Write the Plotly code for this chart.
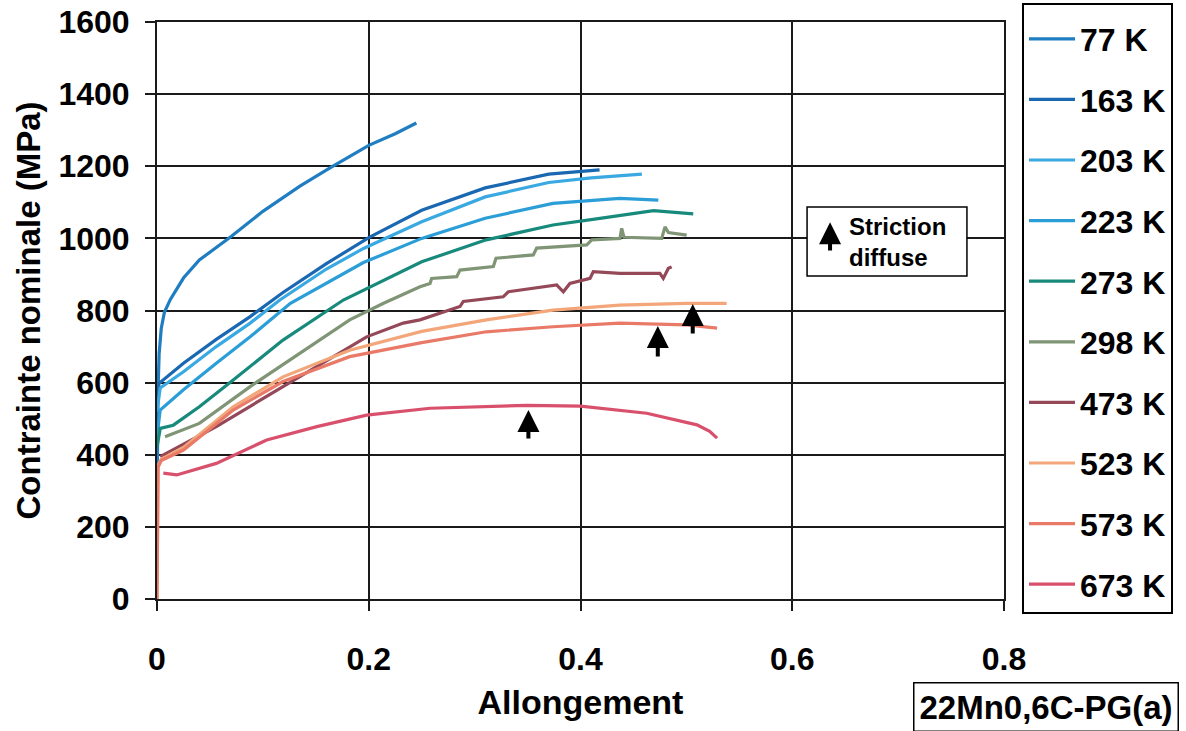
import plotly.graph_objects as go

# ---------------- data ----------------
labels = ["77 K", "163 K", "203 K", "223 K", "273 K", "298 K", "473 K", "523 K", "573 K", "673 K"]
colors = ["#1f7dc2", "#1a68b2", "#3aa9e2", "#2b9ed8", "#178a7c", "#7f9575",
          "#944858", "#f2a679", "#e97a68", "#d9506c"]

x_77 = [0, 0.0005, 0.001, 0.002, 0.004, 0.007, 0.0125, 0.025, 0.04, 0.07, 0.10, 0.135, 0.163, 0.20, 0.225, 0.245]
y_77 = [250, 450, 580, 680, 750, 795, 830, 890, 940, 1005, 1075, 1145, 1195, 1258, 1290, 1320]

x_163 = [0, 0.002, 0.025, 0.056, 0.088, 0.119, 0.16, 0.2, 0.25, 0.31, 0.37, 0.418]
y_163 = [560, 598, 654, 720, 783, 850, 930, 1002, 1078, 1140, 1178, 1190]

x_203 = [0, 0.003, 0.025, 0.056, 0.088, 0.116, 0.16, 0.195, 0.25, 0.31, 0.37, 0.41, 0.458]
y_203 = [520, 585, 630, 700, 765, 829, 915, 972, 1046, 1115, 1155, 1168, 1178]

x_223 = [0, 0.003, 0.025, 0.056, 0.088, 0.126, 0.195, 0.25, 0.31, 0.374, 0.437, 0.4735]
y_223 = [450, 524, 580, 654, 727, 820, 933, 1000, 1056, 1097, 1111, 1106]

x_273 = [0, 0.003, 0.0154, 0.04, 0.072, 0.119, 0.176, 0.25, 0.311, 0.374, 0.42, 0.469, 0.5065]
y_273 = [420, 473, 482, 533, 607, 718, 829, 935, 996, 1037, 1056, 1077, 1068]

x_298 = [0.0076, 0.04, 0.088, 0.135, 0.182, 0.214, 0.2484, 0.2579, 0.2594, 0.2831, 0.2862, 0.3177,
         0.3202, 0.3554, 0.3586, 0.4059, 0.4106, 0.4373, 0.4389, 0.4411, 0.4767, 0.4798, 0.483, 0.5003]
y_298 = [450, 487, 589, 681, 774, 820, 866, 875, 889, 894, 912, 922,
         945, 954, 973, 982, 996, 1000, 1028, 1003, 1000, 1032, 1016, 1009]

x_473 = [0.003, 0.056, 0.119, 0.1665, 0.198, 0.2326, 0.2484, 0.2862, 0.2893, 0.327, 0.3318, 0.3775,
         0.3838, 0.39, 0.409, 0.4121, 0.4373, 0.475, 0.4782, 0.483, 0.4861]
y_473 = [395, 478, 589, 672, 727, 765, 774, 811, 825, 838, 852, 871,
         852, 875, 889, 908, 903, 903, 889, 917, 921]

x_523 = [0, 0.001, 0.004, 0.025, 0.072, 0.119, 0.182, 0.25, 0.311, 0.374, 0.437, 0.5, 0.538]
y_523 = [0, 370, 388, 420, 533, 616, 690, 742, 774, 801, 815, 820, 820]

x_573 = [0, 0.001, 0.004, 0.025, 0.072, 0.119, 0.182, 0.25, 0.311, 0.374, 0.437, 0.5, 0.529]
y_573 = [0, 365, 384, 413, 524, 603, 672, 711, 741, 755, 765, 760, 751]

x_673 = [0.006, 0.0186, 0.056, 0.1036, 0.151, 0.198, 0.258, 0.3, 0.349, 0.4, 0.4625, 0.51, 0.522, 0.529]
y_673 = [349, 344, 376, 441, 478, 510, 529, 533, 537, 535, 515, 483, 465, 446]

series_x = [x_77, x_163, x_203, x_223, x_273, x_298, x_473, x_523, x_573, x_673]
series_y = [y_77, y_163, y_203, y_223, y_273, y_298, y_473, y_523, y_573, y_673]

# "Striction diffuse" arrows: x position, tail stress, tip stress
arrow_x = [0.3508, 0.473, 0.506]
arrow_tail = [441, 668, 732]
arrow_tip = [524, 757, 818]

x_ticks = [0, 0.2, 0.4, 0.6, 0.8]
x_ticktext = ["0", "0.2", "0.4", "0.6", "0.8"]
y_ticks = [0, 200, 400, 600, 800, 1000, 1200, 1400, 1600]

FONT = "Arial, Liberation Sans, sans-serif"
W, H = 1186, 731
ML, MR, MT, MB = 157, 182, 22, 132
PW, PH = W - ML - MR, H - MT - MB

fig = go.Figure()
for i, (lab, col, xs, ys) in enumerate(zip(labels, colors, series_x, series_y)):
    fig.add_trace(go.Scatter(x=xs, y=ys, mode="lines", name=lab,
                             line=dict(color=col, width=3.2),
                             legendgroup=f"g{i}"))

# arrows marking diffuse necking
for ax_, t0, t1 in zip(arrow_x, arrow_tail, arrow_tip):
    fig.add_annotation(x=ax_, y=t1, ax=ax_, ay=t0, xref="x", yref="y", axref="x", ayref="y",
                       showarrow=True, arrowhead=2, arrowsize=1.1, arrowwidth=4,
                       arrowcolor="black", text="")

# key box for the arrow symbol
fig.add_shape(type="rect", xref="x", yref="y", x0=0.614, x1=0.765, y0=896, y1=1087,
              line=dict(color="black", width=1.5), fillcolor="white", layer="above")
fig.add_annotation(x=0.6357, y=1045, ax=0.6357, ay=962, xref="x", yref="y", axref="x", ayref="y",
                   showarrow=True, arrowhead=2, arrowsize=1.1, arrowwidth=4,
                   arrowcolor="black", text="")
fig.add_annotation(x=0.652, y=991, xref="x", yref="y", xanchor="left", yanchor="middle",
                   text="Striction<br>diffuse", showarrow=False, align="left",
                   font=dict(family=FONT, size=24, color="black", weight="bold"))

# sample name box
fig.add_annotation(x=(1046 - ML) / PW, y=(H - MB - 707) / PH, xref="paper", yref="paper",
                   xanchor="center", yanchor="middle", text="22Mn0,6C-PG(a)",
                   showarrow=False, font=dict(family=FONT, size=33, color="black", weight="bold"),
                   bordercolor="black", borderwidth=1.5, borderpad=5, bgcolor="white")

fig.update_layout(
    width=W, height=H,
    margin=dict(l=ML, r=MR, t=MT, b=MB, autoexpand=False),
    plot_bgcolor="white", paper_bgcolor="white",
    font=dict(family=FONT, color="black"),
    showlegend=True,
    legend=dict(xref="container", yref="container", x=1022 / W, y=1 - 3 / H,
                xanchor="left", yanchor="top", maxheight=H,
                bordercolor="black", borderwidth=2, bgcolor="white",
                font=dict(family=FONT, size=32, color="black", weight="bold"),
                title=dict(text="&nbsp;", font=dict(size=5)),
                tracegroupgap=16, itemwidth=46),
    xaxis=dict(range=[0, 0.8], tickvals=x_ticks, ticktext=x_ticktext, automargin=False,
               showgrid=True, gridcolor="#1a1a1a", gridwidth=2,
               showline=True, linecolor="#1a1a1a", linewidth=2, mirror=True,
               zeroline=False, ticks="outside", ticklen=10, tickwidth=2, tickcolor="#1a1a1a",
               ticklabelstandoff=21,
               tickfont=dict(family=FONT, size=32, color="black", weight="bold"),
               title=dict(text="Allongement", standoff=14,
                          font=dict(family=FONT, size=34, color="black", weight="bold"))),
    yaxis=dict(range=[0, 1600], tickvals=y_ticks, automargin=False,
               showgrid=True, gridcolor="#1a1a1a", gridwidth=2,
               showline=True, linecolor="#1a1a1a", linewidth=2, mirror=True,
               zeroline=False, ticks="outside", ticklen=10, tickwidth=2, tickcolor="#1a1a1a",
               ticklabelstandoff=9,
               tickfont=dict(family=FONT, size=32, color="black", weight="bold"),
               title=dict(text="Contrainte nominale (MPa)", standoff=8,
                          font=dict(family=FONT, size=33, color="black", weight="bold"))),
)

fig.write_html("out.html", config={"displayModeBar": False},
               post_script="document.body.style.margin='0';")
